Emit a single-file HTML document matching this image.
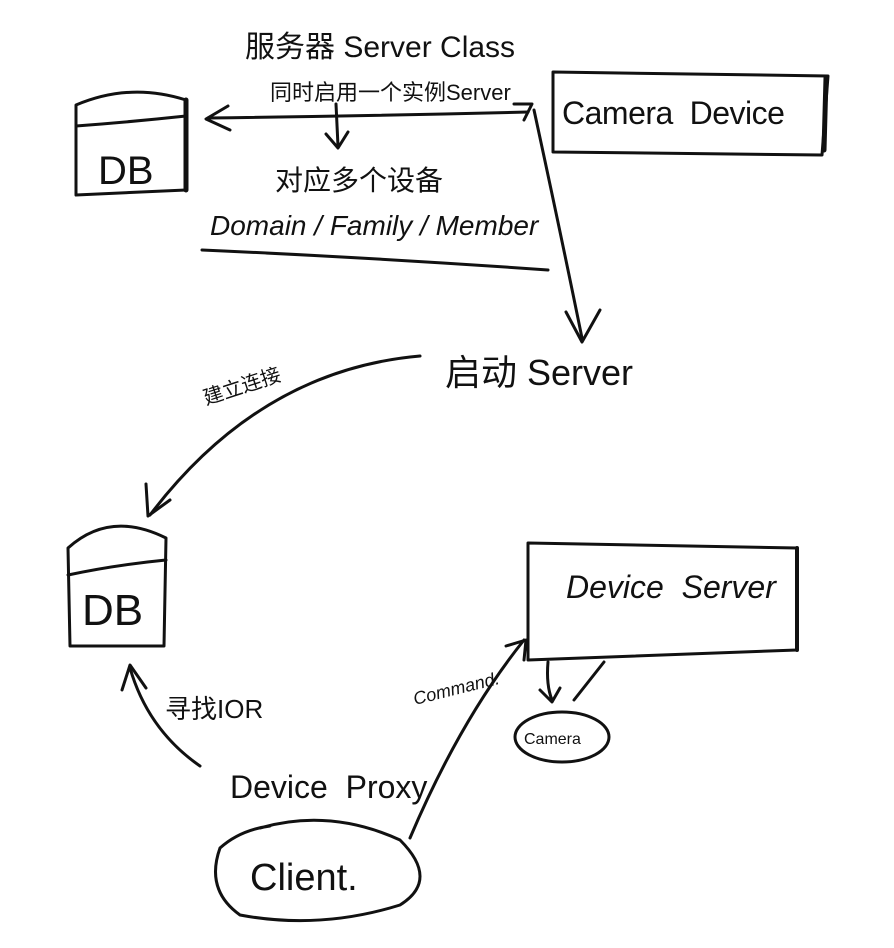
<!DOCTYPE html>
<html><head><meta charset="utf-8"><style>
html,body{margin:0;padding:0;background:#fff;}
svg{display:block}
text{font-family:"Liberation Sans","Noto Sans CJK SC",sans-serif;fill:#111}
</style></head><body>
<svg width="894" height="948" viewBox="0 0 894 948" xmlns="http://www.w3.org/2000/svg">
<g fill="none" stroke="#111" stroke-width="3" stroke-linecap="round" stroke-linejoin="round">
<path d="M208 118 Q370 116 528 112"/>
<path d="M228 106 L206 119 L230 130"/>
<path d="M514 104 L532 104 L524 120"/>
<path d="M336 104 L338 146 M326 134 L338 148 L348 132"/>
<path d="M202 250 Q380 258 548 270"/>
<path d="M553 72 L828 76 L822 155 L553 152 Z"/>
<path d="M826 78 L824 150" stroke-width="5"/>
<path d="M76 105 Q130 82 186 100 L186 190 L76 195 Z"/>
<path d="M76 126 Q130 122 186 116"/>
<path d="M186 100 L186 190" stroke-width="5"/>
<path d="M534 110 Q560 230 582 338"/>
<path d="M566 312 L582 342 L600 310"/>
<path d="M420 356 Q260 370 150 515"/>
<path d="M146 484 L148 516 L170 500"/>
<path d="M68 548 Q110 510 166 538 L164 646 L70 646 Z"/>
<path d="M68 575 Q115 565 166 560"/>
<path d="M528 543 L797 548 L797 650 L528 660 Z"/>
<path d="M797 548 L797 650" stroke-width="4"/>
<path d="M548 662 Q546 685 552 700 M540 690 L552 702 L560 688"/>
<path d="M604 662 L574 700"/>
<ellipse cx="562" cy="737" rx="47" ry="25"/>
<path d="M410 838 Q460 720 524 640"/>
<path d="M506 646 L526 640 L524 660"/>
<path d="M200 766 Q148 730 130 668"/>
<path d="M122 690 L130 665 L146 688"/>
<path d="M260 828 Q330 808 400 840 Q440 880 400 905 Q320 930 240 915 Q205 890 220 848 Q240 830 270 826"/>
</g>
<text x="245" y="57" font-size="30">服务器 Server Class</text>
<text x="270" y="100" font-size="22">同时启用一个实例Server</text>
<text x="562" y="124" font-size="32" letter-spacing="-0.5">Camera&#160; Device</text>
<text x="98" y="184" font-size="40">DB</text>
<text x="275" y="190" font-size="28">对应多个设备</text>
<text x="210" y="235" font-size="28" font-style="italic">Domain / Family / Member</text>
<text x="445" y="385" font-size="36">启动 Server</text>
<text x="0" y="0" font-size="20" transform="translate(206,405) rotate(-18)">建立连接</text>
<text x="82" y="625" font-size="44">DB</text>
<text x="566" y="598" font-size="32" font-style="italic">Device&#160; Server</text>
<text x="524" y="744" font-size="16">Camera</text>
<text x="0" y="0" font-size="18" font-style="italic" transform="translate(415,705) rotate(-14)">Command.</text>
<text x="165" y="718" font-size="26">寻找IOR</text>
<text x="230" y="798" font-size="32">Device&#160; Proxy</text>
<text x="250" y="890" font-size="38">Client.</text>
</svg>
</body></html>
